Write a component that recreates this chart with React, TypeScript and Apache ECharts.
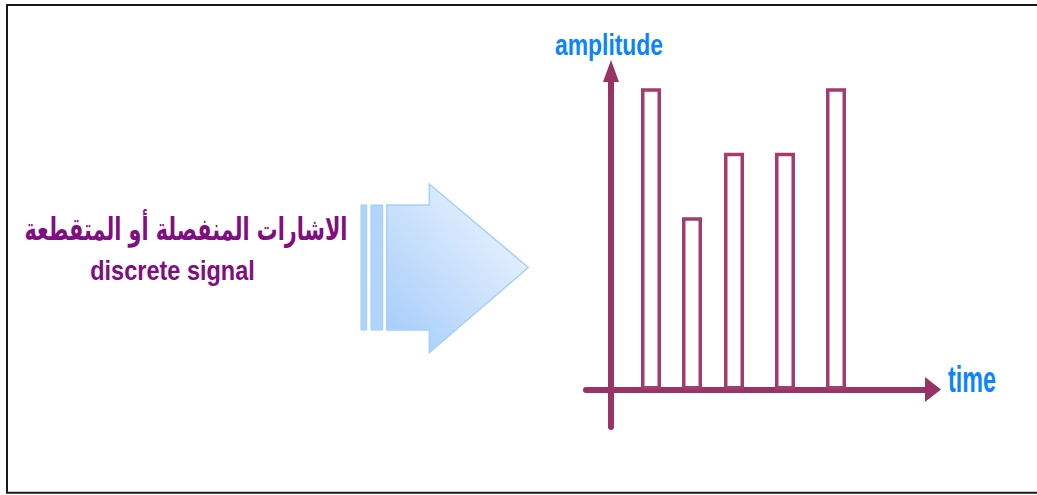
import React, { useEffect, useRef } from 'react';
import * as echarts from 'echarts';

// Sample instants and their amplitudes for the discrete signal
const sampleTimes = [4.0, 8.1, 12.3, 17.4, 22.5];
const sampleAmplitudes = [7, 4, 5.5, 5.5, 7];

// Texts
const titleArabic = 'الاشارات المنفصلة أو المتقطعة';
const titleEnglish = 'discrete signal';
const amplitudeLabel = 'amplitude';
const timeLabel = 'time';

const AXIS_COLOR = '#993366';
const BAR_COLOR = '#a23b70';
const LABEL_BLUE = '#0a84ff';
const TITLE_PURPLE = '#820d82';

export default function App() {
  const ref = useRef<HTMLDivElement>(null);

  useEffect(() => {
    if (!ref.current) return;
    const chart = echarts.init(ref.current, undefined, { renderer: 'svg' });

    const arrowFill = new echarts.graphic.LinearGradient(0, 1, 1, 0, [
      { offset: 0, color: '#a2cbfa' },
      { offset: 1, color: '#f6f9ff' },
    ]);

    const option: echarts.EChartsOption = {
      animation: false,
      backgroundColor: '#ffffff',
      grid: { left: 586, right: 104, top: 71, bottom: 68, containLabel: false },
      xAxis: {
        type: 'value',
        min: -2.5,
        max: 32.2,
        axisLine: {
          show: true,
          onZero: true,
          symbol: ['none', 'triangle'],
          symbolSize: [25, 16],
          lineStyle: { color: AXIS_COLOR, width: 6 },
        },
        axisTick: { show: false },
        axisLabel: { show: false },
        splitLine: { show: false },
      },
      yAxis: {
        type: 'value',
        min: -0.87,
        max: 7.4,
        axisLine: {
          show: true,
          onZero: true,
          symbol: ['none', 'triangle'],
          symbolSize: [16, 22],
          lineStyle: { color: AXIS_COLOR, width: 6 },
        },
        axisTick: { show: false },
        axisLabel: { show: false },
        splitLine: { show: false },
      },
      series: [
        {
          type: 'bar',
          barWidth: 20,
          data: sampleTimes.map((t, i) => [t, sampleAmplitudes[i]]),
          itemStyle: { color: '#ffffff', borderColor: BAR_COLOR, borderWidth: 3.5 },
          emphasis: { disabled: true },
        },
      ],
      graphic: [
        // outer frame (open on the right side)
        {
          type: 'polyline',
          silent: true,
          shape: {
            points: [
              [1040, 5],
              [7, 5],
              [7, 492.8],
              [1040, 492.8],
            ],
          },
          style: { fill: 'none', stroke: '#1a1a1a', lineWidth: 2 },
        },
        // block arrow pointing to the plot
        {
          type: 'rect',
          silent: true,
          shape: { x: 361, y: 205, width: 5.7, height: 125 },
          style: { fill: '#b0d4fc', stroke: '#9ecaf9', lineWidth: 1 },
        },
        {
          type: 'rect',
          silent: true,
          shape: { x: 371, y: 205, width: 11.7, height: 125 },
          style: { fill: '#b0d4fc', stroke: '#9ecaf9', lineWidth: 1 },
        },
        {
          type: 'polygon',
          silent: true,
          shape: {
            points: [
              [386.7, 205],
              [429.3, 205],
              [429.3, 184],
              [528.3, 267.5],
              [429.3, 352.7],
              [429.3, 330],
              [386.7, 330],
            ],
          },
          style: { fill: arrowFill, stroke: '#a6cffa', lineWidth: 1.5 },
        },
        // caption
        {
          type: 'text',
          silent: true,
          x: 186,
          y: 229,
          scaleX: 0.67,
          style: {
            text: titleArabic,
            fill: TITLE_PURPLE,
            fontFamily: 'DejaVu Sans',
            fontWeight: 'bold',
            fontSize: 31,
            align: 'center',
            verticalAlign: 'middle',
          },
        },
        {
          type: 'text',
          silent: true,
          x: 172.5,
          y: 270,
          scaleX: 0.84,
          style: {
            text: titleEnglish,
            fill: TITLE_PURPLE,
            fontFamily: 'Liberation Sans',
            fontWeight: 'bold',
            fontSize: 28,
            align: 'center',
            verticalAlign: 'middle',
          },
        },
        // axis captions
        {
          type: 'text',
          silent: true,
          x: 609,
          y: 45,
          scaleX: 0.79,
          style: {
            text: amplitudeLabel,
            fill: LABEL_BLUE,
            fontFamily: 'Liberation Sans',
            fontWeight: 'bold',
            fontSize: 29,
            align: 'center',
            verticalAlign: 'middle',
          },
        },
        {
          type: 'text',
          silent: true,
          x: 948,
          y: 379,
          scaleX: 0.63,
          style: {
            text: timeLabel,
            fill: LABEL_BLUE,
            fontFamily: 'Liberation Sans',
            fontWeight: 'bold',
            fontSize: 37,
            align: 'left',
            verticalAlign: 'middle',
          },
        },
      ],
    };

    chart.setOption(option);
    return () => chart.dispose();
  }, []);

  return (
    <div
      ref={ref}
      style={{ position: 'fixed', left: 0, top: 0, width: 1037, height: 495, background: '#fff' }}
    />
  );
}
